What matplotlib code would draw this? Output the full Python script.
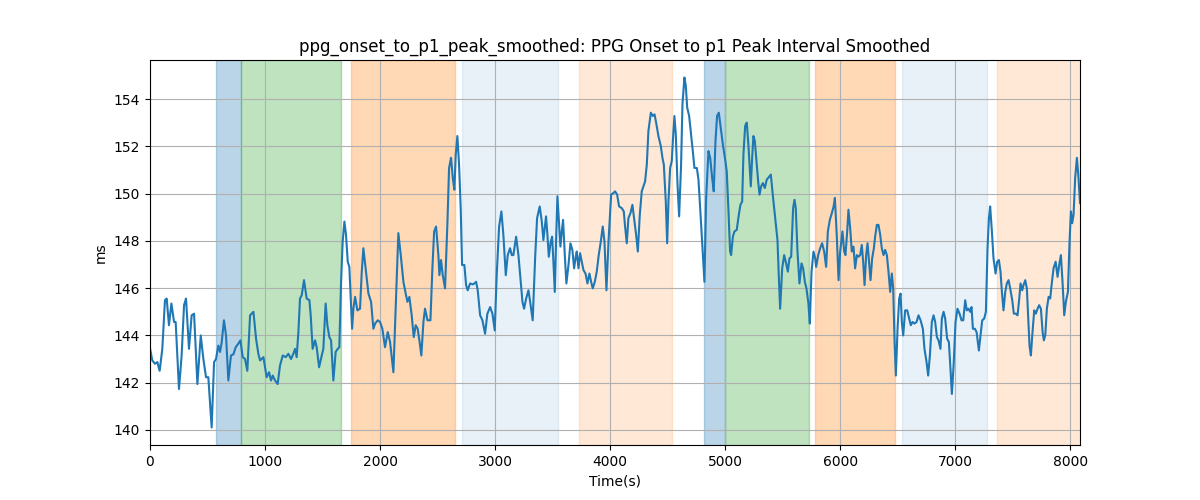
#!/usr/bin/env python3
"""Smoothed PPG onset to p1 peak interval over time, with shaded protocol phases."""

import matplotlib
matplotlib.use('Agg')
import matplotlib.pyplot as plt

# Sample times (s) and smoothed interval (ms)
time_s = [
    0, 20, 43, 64, 84, 107, 130, 145, 165, 186, 209, 223, 252, 275, 296, 313, 339, 362, 383, 412,
    441, 464, 487, 507, 536, 557, 574, 594, 609, 623, 643, 661, 681, 704, 725, 745, 768, 786, 806, 826,
    846, 870, 899, 922, 942,
    957, 986, 1014, 1035, 1052, 1067, 1087, 1110, 1130, 1154, 1180, 1203, 1226, 1246, 1261, 1275, 1290,
    1304, 1319, 1339, 1362, 1386, 1397, 1414, 1435, 1449, 1470, 1493, 1507, 1527, 1542, 1559, 1574,
    1594, 1614, 1632, 1646, 1661, 1675, 1690, 1704, 1719, 1733, 1757, 1768, 1783, 1803, 1826, 1841,
    1855, 1878, 1899, 1922, 1942, 1957,
    1980, 2000, 2020, 2043, 2067, 2087, 2116, 2136, 2159, 2180, 2203, 2223, 2238, 2255, 2275, 2293,
    2310, 2327, 2342, 2359, 2377, 2391, 2412, 2438, 2455, 2470, 2487, 2507, 2516, 2530, 2545, 2565,
    2586, 2600, 2617, 2632, 2646, 2658, 2672, 2687, 2701, 2713, 2733, 2748, 2762, 2783, 2806, 2820,
    2835, 2849, 2870, 2890, 2913, 2933, 2957, 2977,
    2997, 3014, 3035, 3055, 3072, 3093, 3110, 3130, 3145, 3159, 3183, 3203, 3223, 3238, 3252, 3270,
    3290, 3307, 3327, 3348, 3365, 3388, 3406, 3420, 3443, 3455, 3467, 3484, 3496, 3507, 3519, 3530,
    3542, 3559, 3568, 3580, 3591, 3606, 3620, 3638, 3655, 3672, 3687, 3701, 3710, 3725, 3739, 3754,
    3768, 3786, 3803, 3820, 3835, 3849, 3867, 3884, 3901, 3919, 3936, 3951, 3968, 3986,
    4009, 4029, 4043, 4061, 4078, 4101, 4119, 4130, 4145, 4159, 4177, 4194, 4212, 4226, 4241, 4258,
    4275, 4290, 4304, 4319, 4333, 4354, 4371, 4386, 4400, 4420, 4441, 4455, 4467, 4484, 4496, 4507,
    4522, 4536, 4548, 4559, 4571, 4586, 4600, 4617, 4629, 4646, 4658, 4670, 4687, 4704, 4719, 4733,
    4754, 4768, 4783, 4803, 4820, 4835, 4855, 4870, 4887, 4901, 4916, 4930, 4945, 4962,
    4980, 5000, 5014, 5029, 5043, 5052, 5067, 5081, 5101, 5119, 5133, 5148, 5159, 5174, 5188, 5203,
    5223, 5235, 5246, 5258, 5275, 5287, 5299, 5313, 5328, 5345, 5362, 5380, 5397, 5414, 5435, 5455,
    5464, 5478, 5496, 5513, 5530, 5545, 5559, 5574, 5591, 5603, 5614, 5629, 5646, 5664, 5678, 5693,
    5707, 5724, 5736, 5751, 5768, 5783, 5791, 5809, 5826, 5843, 5861, 5878, 5893, 5910, 5928, 5943,
    5954,
    5971, 5986, 6000, 6020, 6035, 6046, 6061, 6072, 6087, 6101, 6116, 6130, 6145, 6159, 6174, 6188,
    6200, 6212, 6226, 6238, 6249, 6264, 6278, 6293, 6304, 6319, 6333, 6348, 6362, 6377, 6391, 6406,
    6420, 6435, 6449, 6461, 6473, 6484, 6499, 6513, 6525, 6536, 6548, 6565, 6583, 6600, 6614, 6629,
    6646, 6664, 6681, 6699, 6719, 6733, 6751, 6765, 6780, 6797, 6812, 6826, 6841, 6855, 6872, 6884,
    6899, 6913, 6930, 6945, 6959,
    6971, 6986, 7003, 7020, 7038, 7055, 7070, 7087, 7101, 7116, 7130, 7142, 7154, 7171, 7186, 7206,
    7220, 7235, 7252, 7267, 7281, 7293, 7304, 7319, 7333, 7351, 7365, 7380, 7394, 7406, 7420, 7435,
    7449, 7464, 7478, 7496, 7510, 7528, 7542, 7557, 7568, 7583, 7594, 7609, 7623, 7635, 7646, 7658,
    7670, 7687, 7701, 7716, 7730, 7745, 7760, 7771, 7783, 7797, 7812, 7826, 7838, 7855, 7873, 7890,
    7904, 7919, 7933, 7948, 7962, 7980, 7994, 8006, 8017, 8029, 8043, 8058, 8070, 8085,
]

interval_ms = [
    143.45, 142.94, 142.8, 142.87, 142.5, 143.43, 145.49, 145.56, 144.43, 145.35, 144.57, 144.57,
    141.73, 143.15, 145.28, 145.56, 143.43, 144.85, 144.92, 141.94, 144.0, 143.0, 142.23, 142.23,
    140.1, 142.87, 143.0, 143.57, 143.3, 143.7, 144.64, 144.0, 142.09, 143.15, 143.2, 143.5, 143.65,
    143.79, 143.08, 143.0, 142.5, 144.85, 145.0, 143.86, 143.22,
    142.94, 143.08, 142.23, 142.44, 142.09, 142.3, 142.09, 141.94, 142.72, 143.15, 143.08, 143.22,
    143.0, 143.22, 143.43, 143.08, 144.14, 145.56, 145.7, 146.34, 145.56, 145.49, 144.85, 143.43,
    143.79, 143.5, 142.65, 143.15, 143.43, 145.35, 144.43, 143.93, 143.79, 142.09, 143.3, 143.43,
    143.5, 146.27, 147.97, 148.82, 148.26, 147.12, 146.9, 144.28, 145.13, 145.63, 145.06, 145.13,
    146.7, 147.69, 146.7, 145.77, 145.42, 144.28, 144.5,
    144.64, 144.57, 144.28, 143.5, 144.14, 143.72, 142.44, 145.13, 148.33, 147.4, 146.27, 145.77,
    145.42, 145.63, 144.85, 143.93, 144.43, 144.28, 143.79, 143.15, 144.57, 145.13, 144.64, 144.64,
    146.84, 148.4, 148.61, 147.4, 146.55, 147.19, 146.55, 145.99, 148.82, 151.09, 151.52, 150.67,
    150.17, 151.66, 152.44, 151.23, 149.39, 146.98, 146.98, 146.13, 145.91, 146.2, 146.16, 146.2,
    146.27, 145.91, 144.85, 144.64, 144.07, 144.92, 145.2, 144.92,
    144.21, 146.55, 148.61, 149.25, 148.26, 146.55, 147.4, 147.69, 147.4, 147.4, 148.18, 147.4,
    146.27, 145.42, 145.13, 145.56, 145.91, 145.35, 144.64, 147.26, 148.96, 149.46, 148.82, 148.04,
    149.04, 148.26, 147.33, 147.97, 148.18, 147.12, 145.84, 147.97, 149.89, 148.54, 147.76, 148.4,
    148.89, 147.4, 146.2, 146.98, 147.9, 147.62, 146.84, 147.33, 147.55, 146.84, 147.48, 147.12,
    146.77, 146.62, 146.2, 146.62, 146.27, 145.99, 146.27, 146.7, 147.4, 147.97, 148.61, 147.97,
    145.91, 147.97,
    149.96, 150.03, 150.1, 149.96, 149.46, 149.39, 149.25, 148.61, 147.9, 148.96, 149.18, 149.53,
    148.82, 148.26, 147.55, 149.11, 150.1, 150.31, 150.52, 151.23, 152.65, 153.43, 153.29, 153.36,
    153.01, 152.44, 152.01, 151.52, 151.23, 149.67, 147.9, 149.67, 151.09, 151.38, 152.44, 153.29,
    152.51, 150.38, 149.04, 151.23, 153.79, 154.92, 154.57, 153.65, 153.29, 152.51, 151.8, 151.09,
    151.09, 150.6, 149.39, 147.69, 146.27, 149.82, 151.8, 151.52, 150.67, 150.1, 152.23, 153.29,
    153.43, 152.79,
    152.09, 151.45, 150.95, 149.25, 147.55, 147.4, 148.18, 148.4, 148.47, 149.11, 149.53, 149.67,
    151.66, 152.87, 153.01, 152.01, 150.31, 151.52, 152.44, 152.23, 151.23, 150.52, 149.96, 150.31,
    150.45, 150.24, 150.6, 150.7, 150.81, 149.96, 148.96, 148.04, 146.84, 145.13, 146.84, 147.4,
    147.05, 146.7, 147.26, 147.33, 149.39, 149.74, 149.39, 147.55, 146.2, 147.05, 146.84, 146.27,
    145.99, 145.35, 144.5, 146.7, 147.55, 147.26, 146.9, 147.4, 147.69, 147.9, 147.55, 146.9,
    148.4, 148.89, 149.18, 149.46, 149.82,
    148.18, 146.34, 147.55, 148.4, 147.55, 147.4, 148.4, 149.32, 148.54, 147.55, 147.76, 146.84,
    147.4, 147.33, 147.4, 147.83, 147.12, 146.13, 147.4, 147.9, 147.26, 146.34, 147.26, 147.69,
    148.18, 148.68, 148.68, 148.26, 147.69, 147.4, 147.62, 147.4, 146.7, 145.84, 146.62, 145.99,
    143.72, 142.3, 144.28, 145.56, 145.77, 144.57, 144.0, 145.06, 145.06, 144.71, 144.43, 144.57,
    144.5, 144.57, 144.85, 144.64, 144.28, 143.43, 142.87, 142.3, 143.15, 144.57, 144.85, 144.57,
    143.93, 143.79, 143.43, 144.71, 145.0, 144.71, 143.86, 143.72, 142.58,
    141.52, 142.72, 144.57, 145.13, 144.92, 144.64, 144.64, 145.49, 145.06, 145.13, 145.0, 145.2,
    144.28, 144.28, 144.14, 143.36, 144.0, 144.64, 144.71, 145.0, 147.69, 148.96, 149.46, 148.4,
    147.26, 146.62, 147.12, 147.19, 146.7, 145.84, 145.06, 145.84, 146.2, 146.34, 145.99, 145.49,
    144.92, 144.92, 144.85, 145.56, 146.2, 145.91, 146.13, 146.34, 145.99, 144.71, 143.57, 143.15,
    144.0, 145.06, 144.92, 145.13, 145.28, 145.13, 144.14, 143.79, 144.0, 145.13, 145.63, 145.56,
    146.13, 146.84, 147.12, 146.48, 146.98, 147.4, 146.27, 144.85, 145.42, 145.84, 147.97, 149.25,
    148.75, 149.11, 150.67, 151.52, 150.81, 149.6,
]

# Shaded phases: start, end, colour, opacity
phase_start = [574, 794, 1748, 2713, 3730, 4817, 5003, 5777, 6539, 7365]
phase_end = [794, 1661, 2652, 3548, 4536, 5003, 5728, 6478, 7275, 8090]
phase_color = ['C0', 'C2', 'C1', 'C0', 'C1', 'C0', 'C2', 'C1', 'C0', 'C1']
phase_alpha = [0.3, 0.3, 0.3, 0.1, 0.17, 0.3, 0.3, 0.3, 0.1, 0.17]


def main():
    fig, ax = plt.subplots(figsize=(12, 5), dpi=100)

    for start, end, color, alpha in zip(phase_start, phase_end, phase_color, phase_alpha):
        ax.axvspan(start, end, color=color, alpha=alpha)

    ax.plot(time_s, interval_ms, color='C0', linewidth=1.5)

    ax.set_xlim(0, time_s[-1])
    ax.set_title('ppg_onset_to_p1_peak_smoothed: PPG Onset to p1 Peak Interval Smoothed')
    ax.set_xlabel('Time(s)')
    ax.set_ylabel('ms')
    ax.grid(True)

    fig.savefig('out.png', dpi=100)
    plt.close(fig)


if __name__ == '__main__':
    main()
